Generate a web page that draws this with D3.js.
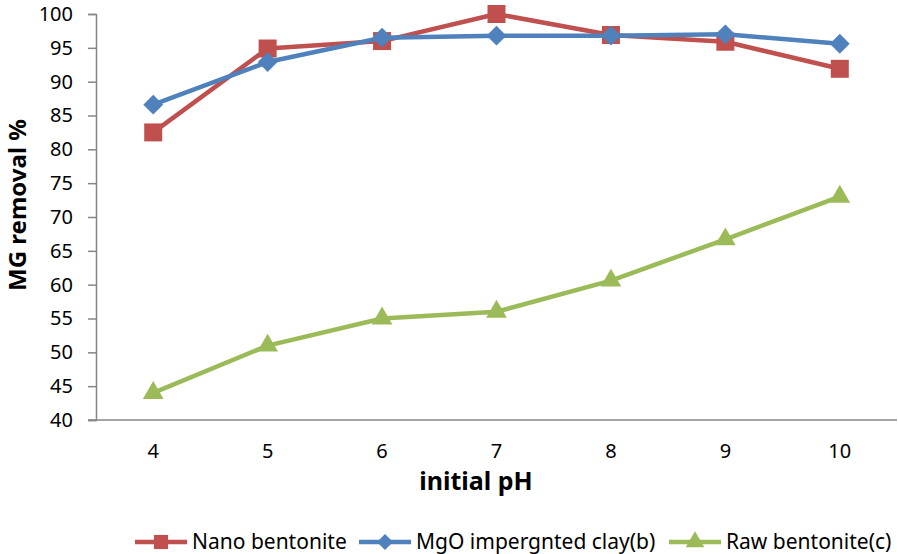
<!doctype html>
<html lang="en">
<head>
<meta charset="utf-8">
<title>MG removal vs initial pH</title>
<script src="https://d3js.org/d3.v7.min.js"></script>
<style>
  body { margin: 0; background: #fff; }
  svg text { font-family: "Noto Sans", "Open Sans", sans-serif; fill: #000; }
</style>
</head>
<body>
<svg id="chart" width="898" height="554"></svg>
<script>
// data
const phValues = [4, 5, 6, 7, 8, 9, 10];
const nanoBentonite = [82.5, 94.9, 96.0, 100.0, 96.9, 95.9, 91.9];
const mgoClay = [86.6, 92.9, 96.5, 96.8, 96.8, 97.0, 95.6];
const rawBentonite = [44.0, 51.0, 55.0, 56.0, 60.6, 66.7, 73.0];
const yTicks = [40, 45, 50, 55, 60, 65, 70, 75, 80, 85, 90, 95, 100];

const series = [
  { name: "Nano bentonite", values: nanoBentonite, color: "#C0504D", marker: "square" },
  { name: "MgO impergnted clay(b)", values: mgoClay, color: "#4F81BD", marker: "diamond" },
  { name: "Raw bentonite(c)", values: rawBentonite, color: "#9BBB59", marker: "triangle" }
];

const svg = d3.select("#chart");
const plotL = 96, plotR = 897, plotT = 14, plotB = 420;

const x = d3.scaleBand().domain(phValues).range([plotL, plotR]);
const y = d3.scaleLinear().domain([40, 100]).range([plotB, plotT]);
const cx = d => x(d) + x.bandwidth() / 2;

// axes
const yAxis = svg.append("g")
  .attr("transform", `translate(${plotL},0)`)
  .call(d3.axisLeft(y).tickValues(yTicks).tickSize(8).tickPadding(15));
yAxis.select(".domain").attr("stroke", "#868686").attr("stroke-width", 1.5);
yAxis.selectAll(".tick line").attr("stroke", "#868686").attr("stroke-width", 1.5);
yAxis.selectAll("text").style("font-size", "20px").attr("fill", "#000");

const xAxis = svg.append("g")
  .attr("transform", `translate(0,${plotB})`)
  .call(d3.axisBottom(x).tickSize(0).tickPadding(24));
xAxis.select(".domain").attr("stroke", "#868686").attr("stroke-width", 1.5)
  .attr("d", `M${plotL - 8},0H${plotR}`);
xAxis.selectAll("text").style("font-size", "20px").attr("fill", "#000");

// axis titles
svg.append("text")
  .attr("x", 476).attr("y", 490)
  .attr("text-anchor", "middle")
  .style("font-size", "25px").style("font-weight", "bold")
  .text("initial pH");

svg.append("text")
  .attr("transform", "translate(26,205) rotate(-90)")
  .attr("text-anchor", "middle")
  .style("font-size", "24px").style("font-weight", "bold")
  .text("MG removal %");

const symbolType = { square: d3.symbolSquare, diamond: d3.symbolSquare, triangle: d3.symbolTriangle };
const symbolSize = { square: 324, diamond: 196, triangle: 185 };
const symbolRot = { square: 0, diamond: 45, triangle: 0 };

const line = d3.line().x((d, i) => cx(phValues[i])).y(d => y(d));

series.forEach(s => {
  svg.append("path")
    .attr("d", line(s.values))
    .attr("fill", "none")
    .attr("stroke", s.color)
    .attr("stroke-width", 4.5)
    .attr("stroke-linejoin", "round");
  svg.selectAll(null).data(s.values).enter().append("path")
    .attr("d", d3.symbol().type(symbolType[s.marker]).size(symbolSize[s.marker]))
    .attr("transform", (d, i) => `translate(${cx(phValues[i])},${y(d)}) rotate(${symbolRot[s.marker]})`)
    .attr("fill", s.color);
});

// legend
const legendX = [135, 359, 669];
series.forEach((s, i) => {
  const g = svg.append("g").attr("transform", `translate(${legendX[i]},542)`);
  g.append("line").attr("x1", 0).attr("x2", 52).attr("y1", 0).attr("y2", 0)
    .attr("stroke", s.color).attr("stroke-width", 4.5);
  g.append("path")
    .attr("d", d3.symbol().type(symbolType[s.marker]).size(s.marker === "triangle" ? 150 : (s.marker === "square" ? 200 : 130))())
    .attr("transform", `translate(26,0) rotate(${symbolRot[s.marker]})`).attr("fill", s.color);
  g.append("text").attr("x", 57).attr("y", 0)
    .attr("dy", "0.35em").style("font-size", "21px").text(s.name);
});
</script>
</body>
</html>
